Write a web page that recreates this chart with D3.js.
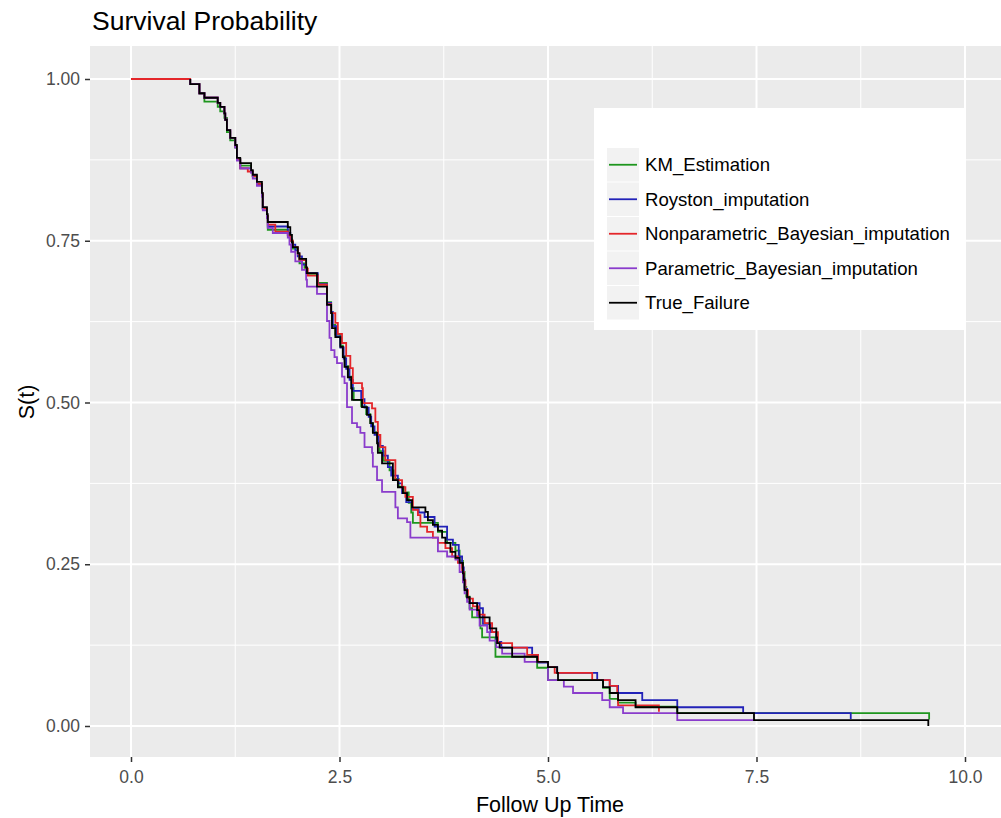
<!DOCTYPE html>
<html>
<head>
<meta charset="utf-8">
<script src="https://cdn.jsdelivr.net/npm/d3@7"></script>
<style>
body { margin: 0; background: #fff; }
text { font-family: "Liberation Sans", Arial, sans-serif; }
</style>
</head>
<body>
<svg id="chart" width="1001" height="818"></svg>
<script>
var seriesNames = ["KM_Estimation", "Royston_imputation", "Nonparametric_Bayesian_imputation", "Parametric_Bayesian_imputation", "True_Failure"];
var seriesColors = ["#1e961e", "#2222b8", "#e4262a", "#8a3ccc", "#000000"];

var xMajor = [0, 2.5, 5, 7.5, 10];
var xMinor = [1.25, 3.75, 6.25, 8.75];
var yMajor = [0, 0.25, 0.5, 0.75, 1];
var yMinor = [0.125, 0.375, 0.625, 0.875];

// [time, S(t)] at each drop
var kmEstimation = [[0.71,1],[0.71,0.992],[0.82,0.978],[0.88,0.965],[1.04,0.957],[1.07,0.950],[1.12,0.940],[1.15,0.918],[1.19,0.905],[1.25,0.894],[1.27,0.876],[1.31,0.866],[1.44,0.857],[1.46,0.849],[1.51,0.838],[1.57,0.820],[1.58,0.800],[1.63,0.787],[1.64,0.767],[1.88,0.759],[1.91,0.750],[1.94,0.738],[2.00,0.727],[2.02,0.715],[2.08,0.708],[2.11,0.697],[2.24,0.685],[2.35,0.655],[2.40,0.640],[2.41,0.620],[2.45,0.605],[2.51,0.588],[2.54,0.572],[2.57,0.556],[2.61,0.540],[2.65,0.522],[2.67,0.504],[2.76,0.494],[2.82,0.482],[2.87,0.468],[2.90,0.454],[2.96,0.440],[2.98,0.425],[3.03,0.410],[3.10,0.395],[3.15,0.382],[3.21,0.370],[3.27,0.361],[3.33,0.345],[3.36,0.330],[3.38,0.314],[3.68,0.300],[3.79,0.283],[3.89,0.271],[3.94,0.255],[3.98,0.238],[4.00,0.215],[4.02,0.200],[4.06,0.182],[4.09,0.168],[4.19,0.151],[4.21,0.137],[4.37,0.107],[4.87,0.090],[5.00,0.071],[5.66,0.059],[5.74,0.042],[5.84,0.036],[6.05,0.030],[6.55,0.020],[9.57,0.010]];

var roystonImp = [[0.71,1],[0.71,0.992],[0.82,0.978],[0.88,0.971],[1.04,0.963],[1.07,0.957],[1.12,0.947],[1.13,0.937],[1.15,0.921],[1.19,0.909],[1.25,0.896],[1.27,0.876],[1.31,0.862],[1.44,0.857],[1.46,0.850],[1.51,0.838],[1.57,0.822],[1.58,0.800],[1.63,0.788],[1.64,0.772],[1.88,0.762],[1.91,0.752],[1.93,0.744],[1.97,0.735],[2.00,0.726],[2.05,0.713],[2.10,0.700],[2.24,0.683],[2.35,0.654],[2.40,0.640],[2.42,0.618],[2.46,0.602],[2.51,0.585],[2.55,0.568],[2.58,0.552],[2.62,0.535],[2.66,0.518],[2.76,0.505],[2.80,0.492],[2.85,0.478],[2.88,0.463],[2.92,0.450],[2.97,0.433],[3.02,0.418],[3.08,0.400],[3.12,0.387],[3.20,0.375],[3.25,0.360],[3.30,0.346],[3.37,0.335],[3.45,0.330],[3.52,0.323],[3.64,0.308],[3.79,0.288],[3.86,0.280],[3.93,0.262],[3.97,0.245],[3.99,0.228],[4.00,0.212],[4.03,0.198],[4.06,0.190],[4.18,0.182],[4.22,0.158],[4.31,0.145],[4.38,0.130],[4.44,0.121],[4.81,0.110],[4.88,0.098],[5.00,0.091],[5.11,0.082],[5.59,0.071],[5.74,0.062],[5.84,0.051],[6.13,0.040],[6.55,0.029],[7.34,0.020],[8.63,0.011]];

var nonparBayes = [[0,1],[0.71,0.992],[0.82,0.978],[0.88,0.971],[1.04,0.963],[1.07,0.957],[1.12,0.947],[1.13,0.937],[1.15,0.921],[1.19,0.909],[1.25,0.896],[1.27,0.876],[1.31,0.862],[1.40,0.857],[1.46,0.850],[1.51,0.838],[1.57,0.822],[1.58,0.800],[1.63,0.788],[1.64,0.775],[1.73,0.764],[1.88,0.758],[1.91,0.750],[1.94,0.740],[2.00,0.730],[2.02,0.720],[2.10,0.707],[2.12,0.696],[2.24,0.682],[2.35,0.652],[2.40,0.638],[2.45,0.623],[2.48,0.606],[2.53,0.592],[2.58,0.572],[2.63,0.553],[2.66,0.530],[2.77,0.522],[2.78,0.499],[2.89,0.491],[2.93,0.470],[2.96,0.450],[2.99,0.431],[3.05,0.411],[3.17,0.380],[3.25,0.369],[3.29,0.354],[3.38,0.334],[3.44,0.326],[3.47,0.308],[3.55,0.300],[3.62,0.291],[3.68,0.283],[3.77,0.275],[3.85,0.262],[3.92,0.252],[3.97,0.238],[3.99,0.225],[4.01,0.210],[4.04,0.197],[4.10,0.185],[4.17,0.172],[4.24,0.159],[4.33,0.145],[4.40,0.128],[4.57,0.121],[4.75,0.110],[4.88,0.099],[5.00,0.091],[5.08,0.082],[5.53,0.071],[5.74,0.062],[5.83,0.051],[5.84,0.032],[6.33,0.022]];

var parBayes = [[0.71,1],[0.71,0.992],[0.82,0.978],[0.88,0.971],[1.04,0.963],[1.07,0.957],[1.12,0.947],[1.13,0.937],[1.15,0.921],[1.19,0.909],[1.25,0.894],[1.27,0.874],[1.31,0.862],[1.44,0.855],[1.46,0.846],[1.51,0.835],[1.57,0.818],[1.58,0.797],[1.63,0.785],[1.64,0.770],[1.70,0.762],[1.88,0.755],[1.90,0.744],[1.92,0.733],[1.97,0.718],[2.05,0.705],[2.10,0.690],[2.11,0.679],[2.23,0.668],[2.35,0.626],[2.38,0.600],[2.40,0.581],[2.44,0.570],[2.47,0.561],[2.53,0.540],[2.56,0.530],[2.59,0.493],[2.65,0.468],[2.71,0.462],[2.75,0.453],[2.80,0.431],[2.89,0.422],[2.90,0.401],[2.95,0.380],[3.01,0.362],[3.17,0.338],[3.20,0.321],[3.31,0.315],[3.35,0.291],[3.68,0.270],[3.79,0.262],[3.89,0.257],[3.94,0.238],[3.98,0.222],[4.00,0.205],[4.03,0.192],[4.06,0.180],[4.15,0.170],[4.18,0.155],[4.27,0.145],[4.30,0.132],[4.38,0.122],[4.45,0.112],[4.72,0.099],[5.00,0.071],[5.19,0.061],[5.30,0.051],[5.65,0.040],[5.74,0.029],[5.90,0.020],[6.55,0.009],[7.47,0.009]];

var trueFailure = [[0.71,1],[0.71,0.992],[0.82,0.978],[0.88,0.971],[1.04,0.963],[1.07,0.957],[1.12,0.947],[1.13,0.937],[1.15,0.921],[1.19,0.909],[1.25,0.898],[1.27,0.878],[1.31,0.870],[1.44,0.859],[1.46,0.852],[1.51,0.841],[1.57,0.824],[1.58,0.802],[1.63,0.791],[1.64,0.779],[1.88,0.771],[1.91,0.759],[1.93,0.748],[1.94,0.740],[2.00,0.731],[2.02,0.722],[2.10,0.709],[2.11,0.700],[2.23,0.679],[2.35,0.651],[2.40,0.638],[2.41,0.615],[2.45,0.601],[2.51,0.586],[2.54,0.570],[2.56,0.555],[2.60,0.539],[2.64,0.522],[2.65,0.504],[2.77,0.493],[2.83,0.481],[2.87,0.468],[2.90,0.453],[2.95,0.437],[2.96,0.422],[3.01,0.406],[3.14,0.380],[3.20,0.369],[3.26,0.360],[3.31,0.349],[3.37,0.338],[3.53,0.331],[3.56,0.318],[3.62,0.311],[3.68,0.302],[3.73,0.291],[3.77,0.283],[3.83,0.269],[3.89,0.260],[3.94,0.252],[3.98,0.236],[3.99,0.226],[4.00,0.210],[4.03,0.199],[4.06,0.190],[4.15,0.179],[4.18,0.168],[4.30,0.151],[4.38,0.137],[4.39,0.128],[4.42,0.121],[4.57,0.107],[4.87,0.099],[5.00,0.091],[5.11,0.082],[5.12,0.071],[5.66,0.060],[5.74,0.051],[5.84,0.040],[6.05,0.029],[6.55,0.020],[7.47,0.009],[9.56,0.000]];

var allSeries = [kmEstimation, roystonImp, nonparBayes, parBayes, trueFailure];

var svg = d3.select("#chart");
var panel = {left: 90, top: 46, right: 1001, bottom: 757};

var x = d3.scaleLinear().domain([0, 10]).range([131, 965]);
var y = d3.scaleLinear().domain([0, 1]).range([726, 79]);

svg.append("rect").attr("x", panel.left).attr("y", panel.top)
  .attr("width", panel.right - panel.left).attr("height", panel.bottom - panel.top)
  .attr("fill", "#ebebeb");

var grid = svg.append("g");
grid.selectAll(".xminor").data(xMinor).enter().append("line")
  .attr("x1", d => x(d)).attr("x2", d => x(d)).attr("y1", panel.top).attr("y2", panel.bottom)
  .attr("stroke", "#fff").attr("stroke-width", 1);
grid.selectAll(".yminor").data(yMinor).enter().append("line")
  .attr("y1", d => y(d)).attr("y2", d => y(d)).attr("x1", panel.left).attr("x2", panel.right)
  .attr("stroke", "#fff").attr("stroke-width", 1);
grid.selectAll(".xmajor").data(xMajor).enter().append("line")
  .attr("x1", d => x(d)).attr("x2", d => x(d)).attr("y1", panel.top).attr("y2", panel.bottom)
  .attr("stroke", "#fff").attr("stroke-width", 2);
grid.selectAll(".ymajor").data(yMajor).enter().append("line")
  .attr("y1", d => y(d)).attr("y2", d => y(d)).attr("x1", panel.left).attr("x2", panel.right)
  .attr("stroke", "#fff").attr("stroke-width", 2);

var line = d3.line().x(d => x(d[0])).y(d => y(d[1])).curve(d3.curveStepAfter);

svg.append("g").selectAll("path").data(allSeries).enter().append("path")
  .attr("d", d => line(d))
  .attr("fill", "none")
  .attr("stroke", (d, i) => seriesColors[i])
  .attr("stroke-width", 1.8);

// axes
var yAxis = svg.append("g").attr("transform", "translate(" + panel.left + ",0)")
  .call(d3.axisLeft(y).tickValues(yMajor).tickFormat(d3.format(".2f")).tickSize(5).tickPadding(5));
var xAxis = svg.append("g").attr("transform", "translate(0," + panel.bottom + ")")
  .call(d3.axisBottom(x).tickValues(xMajor).tickFormat(d3.format(".1f")).tickSize(5).tickPadding(9));
[xAxis, yAxis].forEach(function(a){
  a.select(".domain").remove();
  a.selectAll(".tick line").attr("stroke", "#333").attr("stroke-width", 1.5);
  a.selectAll(".tick text").attr("fill", "#4d4d4d").style("font-size", "17.5px")
    .style("font-family", "'Liberation Sans', Arial, sans-serif");
});

svg.append("text").attr("x", 92).attr("y", 30).text("Survival Probability")
  .style("font-size", "26.5px").attr("fill", "#000");
svg.append("text").attr("x", 550).attr("y", 812).attr("text-anchor", "middle")
  .text("Follow Up Time").style("font-size", "21.5px").attr("fill", "#000");
svg.append("text").attr("transform", "translate(34,402) rotate(-90)").attr("text-anchor", "middle")
  .text("S(t)").style("font-size", "21.5px").attr("fill", "#000");

// legend
var legend = svg.append("g");
legend.append("rect").attr("x", 594).attr("y", 108).attr("width", 371).attr("height", 222).attr("fill", "#fff");
var keys = legend.selectAll(".key").data(seriesNames).enter().append("g")
  .attr("transform", (d, i) => "translate(607," + (148 + i * 34.5) + ")");
keys.append("rect").attr("width", 32).attr("height", 33.5).attr("fill", "#f2f2f2");
keys.append("line").attr("x1", 2).attr("x2", 30).attr("y1", 16.75).attr("y2", 16.75)
  .attr("stroke", (d, i) => seriesColors[i]).attr("stroke-width", 1.8);
keys.append("text").attr("x", 38).attr("y", 23).text(d => d)
  .style("font-size", "18.6px").attr("fill", "#000");
</script>
</body>
</html>
